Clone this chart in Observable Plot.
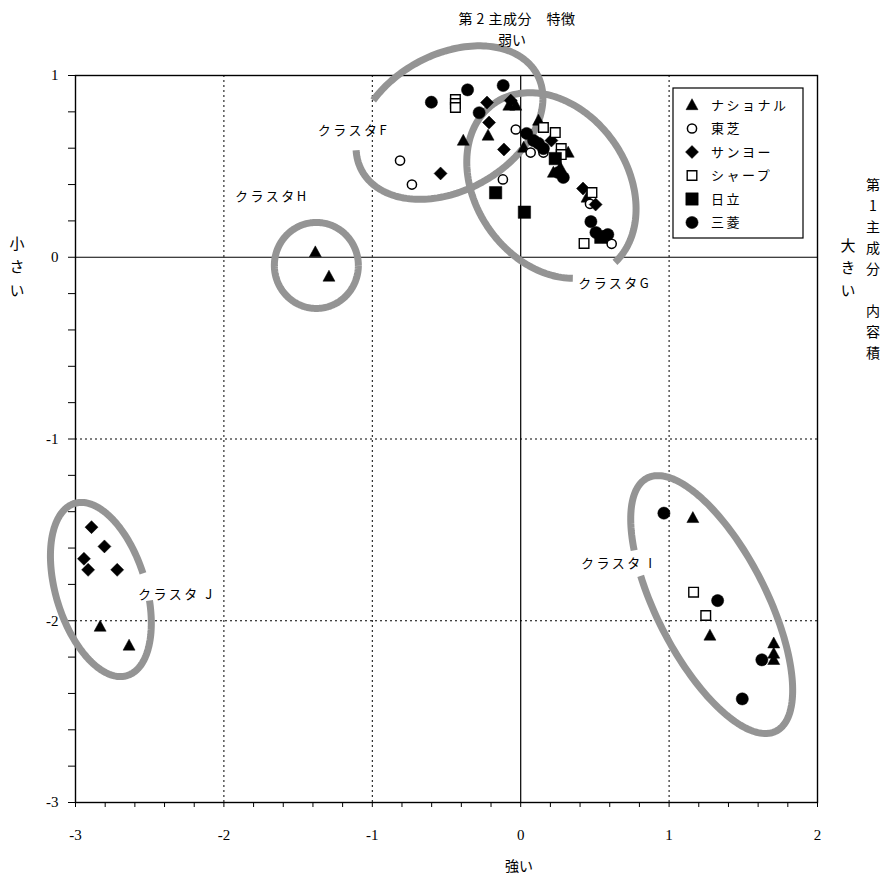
<!DOCTYPE html>
<html><head><meta charset="utf-8">
<script src="https://cdn.jsdelivr.net/npm/d3@7"></script>
<script src="https://cdn.jsdelivr.net/npm/@observablehq/plot@0.6"></script>
<style>body{margin:0;background:#fff}</style>
</head><body><div id="chart"></div>
<script>
// ---- data (第1主成分 = y, 第2主成分 = x) ----
const national = [[-0.08,0.835],[-0.033,0.835],[-0.22,0.67],[-0.387,0.642],[0.12,0.752],[0.02,0.604],[0.32,0.576],[0.267,0.494],[0.22,0.466],[0.447,0.329],
  [-1.384,0.028],[-1.292,-0.106],
  [-2.834,-2.032],[-2.639,-2.136],
  [1.16,-1.434],[1.275,-2.081],[1.705,-2.124],[1.705,-2.18],[1.705,-2.215]];
const toshiba = [[-0.033,0.703],[-0.813,0.532],[-0.733,0.40],[-0.12,0.428],[0.067,0.576],[0.153,0.576],[0.467,0.294],[0.613,0.074]];
const sanyo = [[-0.227,0.851],[-0.213,0.741],[-0.113,0.593],[-0.54,0.461],[-0.067,0.862],[0.207,0.642],[0.505,0.29],[0.42,0.378],
  [-2.892,-1.485],[-2.805,-1.591],[-2.943,-1.659],[-2.915,-1.72],[-2.719,-1.72]];
const sharp = [[-0.44,0.868],[-0.44,0.846],[-0.44,0.824],[0.153,0.714],[0.233,0.686],[0.273,0.598],[0.273,0.565],[0.48,0.356],[0.427,0.076],
  [1.165,-1.843],[1.247,-1.971]];
const hitachi = [[-0.169,0.355],[0.025,0.248],[0.233,0.543],[0.54,0.11]];
const mitsubishi = [[-0.602,0.853],[-0.358,0.921],[-0.118,0.945],[-0.28,0.795],[0.04,0.681],[0.087,0.642],[0.12,0.626],[0.153,0.598],[0.287,0.439],[0.253,0.466],[0.473,0.196],[0.507,0.136],[0.553,0.114],[0.587,0.125],
  [0.965,-1.408],[1.327,-1.889],[1.625,-2.215],[1.493,-2.43]];

const brandNames = ["ナショナル","東芝","サンヨー","シャープ","日立","三菱"];
const xTickValues = d3.range(-15, 11).map(i => i / 5);
const yTickValues = d3.range(-15, 6).map(i => i / 5);
const gridXValues = [-2, -1, 1];
const gridYValues = [-1, -2];

// cluster annotations
const clusterLabels = [
  {label:"クラスタF", x:-1.367, y:0.697},
  {label:"クラスタH", x:-1.925, y:0.333},
  {label:"クラスタG", x:0.387, y:-0.145},
  {label:"クラスタ I", x:0.407, y:-1.685},
  {label:"クラスタ J", x:-2.579, y:-1.857}
];
const clusterRings = [
  {name:"F", cx:-0.48, cy:0.741, a:100, b:68, angle:-29, gapFrom:198, gapTo:236},
  {name:"G", cx:0.207, cy:0.395, a:100, b:76, angle:55, gapFrom:-5, gapTo:28},
  {name:"H", cx:-1.377, cy:-0.045, a:42, b:43, angle:0, gapFrom:0, gapTo:0},
  {name:"I", cx:1.287, cy:-1.911, a:142, b:55, angle:63, gapFrom:114, gapTo:126},
  {name:"J", cx:-2.829, cy:-1.828, a:90, b:45, angle:73, gapFrom:-91, gapTo:-74}
];

// ---- layout ----
const W = 882, H = 875, mL = 75, mR = 65, mT = 75, mB = 73;
const kx = (W - mL - mR) / 5, ky = (H - mT - mB) / 4;
const jpFont = "'Noto Sans CJK JP', sans-serif";
const numFont = "'Liberation Serif', 'Noto Sans CJK JP', serif";

function ringPoints(e) {
  const pts = [];
  const th = e.angle * Math.PI / 180;
  const start = e.gapTo, end = e.gapFrom + 360;
  for (let d = start; d <= end + 1e-9; d += 2) {
    const t = d * Math.PI / 180;
    const dx = e.a * Math.cos(t) * Math.cos(th) - e.b * Math.sin(t) * Math.sin(th);
    const dy = e.a * Math.cos(t) * Math.sin(th) + e.b * Math.sin(t) * Math.cos(th);
    pts.push({name: e.name, x: e.cx + dx / kx, y: e.cy - dy / ky});
  }
  return pts;
}
const ringData = clusterRings.flatMap(ringPoints);

const sym = fn => ({draw(ctx, size) { fn(ctx, Math.sqrt(size / Math.PI)); }});
const triSym = sym((c, r) => { c.moveTo(0, -r * 1.05); c.lineTo(r, r * 0.78); c.lineTo(-r, r * 0.78); c.closePath(); });
const circSym = sym((c, r) => { c.moveTo(r, 0); c.arc(0, 0, r, 0, 2 * Math.PI); c.closePath(); });
const diaSym = sym((c, r) => { c.moveTo(0, -r); c.lineTo(r, 0); c.lineTo(0, r); c.lineTo(-r, 0); c.closePath(); });
const sqSym = sym((c, r) => { c.rect(-r, -r, 2 * r, 2 * r); });

const brands = [
  {data: national, symbol: triSym, r: 6, fill: "#000", sw: 0.5},
  {data: toshiba, symbol: circSym, r: 4.6, fill: "#fff", sw: 1.5},
  {data: sanyo, symbol: diaSym, r: 6.5, fill: "#000", sw: 0.5},
  {data: sharp, symbol: sqSym, r: 4.8, fill: "#fff", sw: 1.4},
  {data: hitachi, symbol: sqSym, r: 6.2, fill: "#000", sw: 0.5},
  {data: mitsubishi, symbol: circSym, r: 6.1, fill: "#000", sw: 0.5}
];

const fmt = d => Math.abs(d - Math.round(d)) < 1e-9 ? String(Math.round(d)) : "";

const chart = Plot.plot({
  width: W, height: H,
  marginLeft: mL, marginRight: mR, marginTop: mT, marginBottom: mB,
  x: {domain: [-3, 2], axis: null},
  y: {domain: [-3, 1], axis: null},
  style: {fontFamily: numFont, fontSize: "15px", background: "#fff", color: "#000"},
  marks: [
    Plot.gridX(gridXValues, {stroke: "#000", strokeOpacity: 1, strokeWidth: 1, strokeDasharray: "2,3"}),
    Plot.gridY(gridYValues, {stroke: "#000", strokeOpacity: 1, strokeWidth: 1, strokeDasharray: "2,3"}),
    Plot.ruleX([0], {stroke: "#000", strokeWidth: 1.2}),
    Plot.ruleY([0], {stroke: "#000", strokeWidth: 1.2}),
    Plot.frame({stroke: "#000", strokeWidth: 1.4}),
    Plot.axisX({ticks: xTickValues, tickSize: 5, tickPadding: 22, tickFormat: fmt, fontSize: 15, label: null}),
    Plot.axisY({ticks: yTickValues, tickSize: 7, tickPadding: 10, tickFormat: fmt, fontSize: 15, label: null}),
    Plot.line(ringData, {x: "x", y: "y", z: "name", stroke: "url(#halftone)", strokeWidth: 7, strokeLinecap: "butt"}),
    ...brands.map(b => Plot.dot(b.data, {x: d => d[0], y: d => d[1], symbol: b.symbol, r: b.r, fill: b.fill, stroke: "#000", strokeWidth: b.sw})),
    Plot.text(clusterLabels, {x: "x", y: "y", text: "label", textAnchor: "start", fontSize: 13, fontFamily: jpFont})
  ]
});

const svg = d3.select(chart);
const defs = svg.insert("defs", ":first-child");
const pat = defs.append("pattern").attr("id", "halftone").attr("patternUnits", "userSpaceOnUse").attr("width", 2).attr("height", 2);
pat.append("rect").attr("width", 2).attr("height", 2).attr("fill", "#e4e4e4");
pat.append("rect").attr("width", 1).attr("height", 1).attr("fill", "#444");
pat.append("rect").attr("x", 1).attr("y", 1).attr("width", 1).attr("height", 1).attr("fill", "#444");

svg.selectAll('g[aria-label="text"] text').style("letter-spacing", "2.5px");

// legend
const lg = svg.append("g").attr("text-anchor", "start");
lg.append("rect").attr("x", 673).attr("y", 88).attr("width", 130).attr("height", 150)
  .attr("fill", "#fff").attr("stroke", "#000").attr("stroke-width", 1.2);
brands.forEach((b, i) => {
  const yy = 105 + i * 23.5;
  lg.append("path").attr("transform", `translate(692,${yy})`)
    .attr("d", d3.symbol(b.symbol, b.r * b.r * Math.PI)())
    .attr("fill", b.fill).attr("stroke", "#000").attr("stroke-width", b.sw);
  lg.append("text").attr("x", 711).attr("y", yy).attr("dy", "0.36em").attr("text-anchor", "start")
    .style("font-family", jpFont).style("font-size", "13px").style("letter-spacing", "2.5px")
    .text(brandNames[i]);
});

// axis titles
const ttl = svg.append("g").style("font-family", jpFont).attr("fill", "#000");
ttl.append("text").attr("x", 517).attr("y", 19).attr("dy", "0.36em").attr("text-anchor", "middle")
  .style("font-size", "14px").style("letter-spacing", "0.5px").text("第 2 主成分　特徴");
ttl.append("text").attr("x", 512).attr("y", 40).attr("dy", "0.36em").attr("text-anchor", "middle")
  .style("font-size", "14px").text("弱い");
ttl.append("text").attr("x", 519).attr("y", 866).attr("dy", "0.36em").attr("text-anchor", "middle")
  .style("font-size", "14px").text("強い");
const vert = (x, y, s, fs, sp) => ttl.append("text").attr("x", x).attr("y", y).attr("text-anchor", "start")
  .style("writing-mode", "vertical-rl").style("text-orientation", "upright")
  .style("font-size", fs + "px").style("letter-spacing", sp + "px").text(s);
vert(873, 178, "第1主成分　内容積", 14, 7);
vert(848, 237.5, "大きい", 15, 7.5);
vert(17, 235.5, "小さい", 15, 8.5);

document.getElementById("chart").append(chart);
</script>
</body></html>
